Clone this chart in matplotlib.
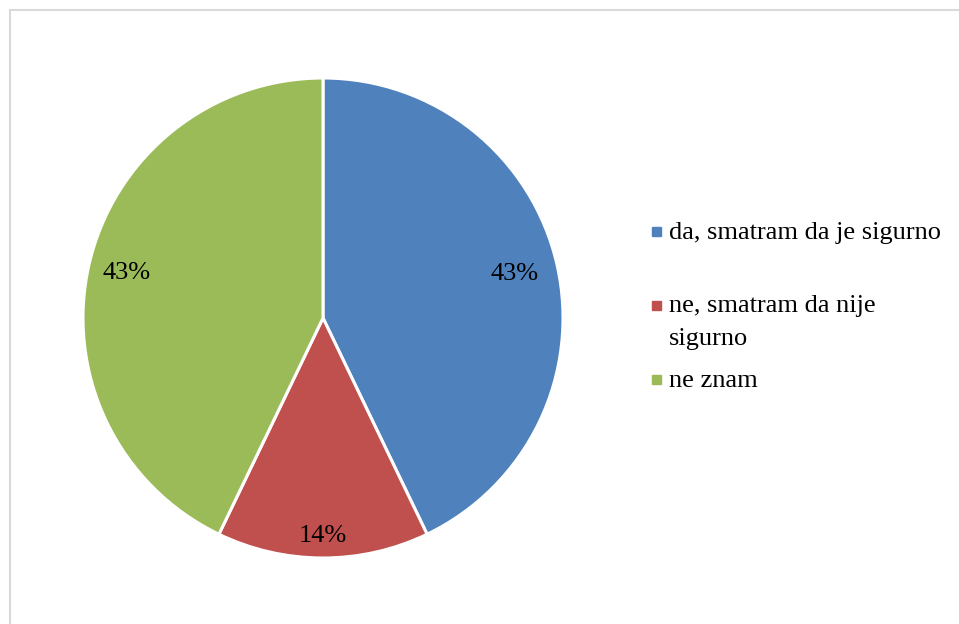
import numpy as np
import matplotlib
matplotlib.use("Agg")
import matplotlib.pyplot as plt
from matplotlib.lines import Line2D

categories = ["da, smatram da je sigurno", "ne, smatram da nije\nsigurno", "ne znam"]
values = [42.86, 14.28, 42.86]
labels = ["43%", "14%", "43%"]
colors = ["#4F81BD", "#C0504D", "#9BBB59"]

W, H = 959, 624
fig = plt.figure(figsize=(W / 100, H / 100), dpi=100)
plt.rcParams['font.family'] = ['Liberation Serif', 'DejaVu Serif']

# border (top & left visible)
fig.add_artist(Line2D([9.5 / W, 1.0], [1 - 9.5 / H, 1 - 9.5 / H], color="#D9D9D9", lw=1.5))
fig.add_artist(Line2D([9.5 / W, 9.5 / W], [0.0, 1 - 9.5 / H], color="#D9D9D9", lw=1.5))

cx, cy, r = 323, H - 318, 240
ax = fig.add_axes([(cx - r) / W, (cy - r) / H, 2 * r / W, 2 * r / H])
wedges, _ = ax.pie(values, colors=colors, startangle=90, counterclock=False, radius=1,
                   wedgeprops=dict(edgecolor="white", linewidth=2.2))
ax.set_xlim(-1, 1)
ax.set_ylim(-1, 1)
ax.set_aspect("equal")
ax.axis("off")

dists = [0.82, 0.91, 0.84]
for w, lab, d in zip(wedges, labels, dists):
    ang = np.deg2rad((w.theta1 + w.theta2) / 2)
    ax.text(d * np.cos(ang), d * np.sin(ang), lab, ha="center", va="center", fontsize=19, color="black")

# legend (manual)
marker_y = [231, 305, 379]
baselines = [[239], [312, 345], [387]]
for c, lab, my, bls in zip(colors, categories, marker_y, baselines):
    fig.patches.append(plt.Rectangle((652 / W, (H - my - 4.5) / H), 9 / W, 9 / H,
                                     transform=fig.transFigure, color=c, figure=fig))
    for line, bl in zip(lab.split("\n"), bls):
        fig.text(669 / W, (H - bl) / H, line, ha="left", va="baseline",
                 fontsize=19, color="black")

fig.savefig("out.png", dpi=100)
